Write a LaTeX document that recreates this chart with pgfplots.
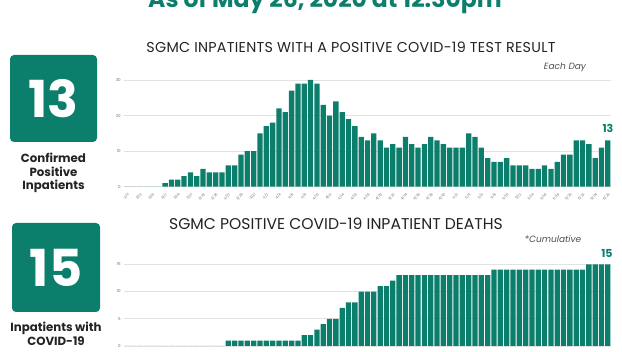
\documentclass[border=0pt]{standalone}
\usepackage{pgfplots}
\pgfplotsset{compat=1.18}
\usepackage{pgfplotstable}
\usepackage{fontspec}
\setmainfont{Poppins}
\definecolor{teal1}{RGB}{12,126,108}
\definecolor{gridgray}{RGB}{226,226,226}
\definecolor{ticktext}{RGB}{110,110,110}
\definecolor{darktext}{RGB}{35,35,35}

\pgfplotstableread{
x y
0 0
1 0
2 0
3 0
4 0
5 0
6 1
7 2
8 2
9 3
10 4
11 3
12 5
13 4
14 4
15 4
16 6
17 6
18 9
19 10
20 10
21 15
22 17
23 18
24 22
25 21
26 27
27 29
28 29
29 30
30 29
31 23
32 20
33 24
34 21
35 19
36 17
37 14
38 13
39 15
40 13
41 11
42 12
43 11
44 14
45 12
46 11
47 12
48 14
49 13
50 12
51 11
52 11
53 11
54 15
55 14
56 11
57 8
58 7
59 7
60 8
61 6
62 6
63 6
64 5
65 5
66 6
67 5
68 7
69 9
70 9
71 13
72 13
73 12
74 8
75 11
76 13
}\inpatients

\pgfplotstableread{
x y
0 0
1 0
2 0
3 0
4 0
5 0
6 0
7 0
8 0
9 0
10 0
11 0
12 0
13 0
14 0
15 0
16 1
17 1
18 1
19 1
20 1
21 1
22 1
23 1
24 1
25 1
26 1
27 1
28 2
29 2
30 3
31 4
32 5
33 5
34 7
35 8
36 8
37 10
38 10
39 10
40 11
41 11
42 12
43 13
44 13
45 13
46 13
47 13
48 13
49 13
50 13
51 13
52 13
53 13
54 13
55 13
56 13
57 13
58 14
59 14
60 14
61 14
62 14
63 14
64 14
65 14
66 14
67 14
68 14
69 14
70 14
71 14
72 14
73 15
74 15
75 15
76 15
}\deaths

\pgfplotsset{
  chartstyle/.style={
    scale only axis, width=487pt,
    xmin=-0.5, xmax=76.5, ymin=0,
    axis lines=left, axis line style={draw=none}, tick style={draw=none},
    ymajorgrids, grid style={gridgray, line width=0.8pt},
    xtick={0,2,...,76},
    xticklabels={3/11,3/13,3/15,3/17,3/19,3/21,3/23,3/25,3/27,3/29,3/31,4/2,4/4,4/6,4/8,4/10,4/12,4/14,4/16,4/18,4/20,4/22,4/24,4/26,4/28,4/30,5/2,5/4,5/6,5/8,5/10,5/12,5/14,5/16,5/18,5/20,5/22,5/24,5/26},
    xticklabel style={rotate=45, anchor=north east, font=\fontsize{3.5}{3.5}\selectfont, text=ticktext, inner sep=1pt},
    yticklabel style={font=\fontsize{4}{4}\selectfont, text=ticktext, inner sep=1pt},
    /pgf/number format/assume math mode=true,
    ybar, bar width=5.3pt, bar shift=0pt,
    clip=false,
  }
}

\begin{document}
\begin{tikzpicture}[x=1pt,y=1pt]
\path[use as bounding box] (0,0) rectangle (622,352);

% header
\node[anchor=base, text=teal1, font=\fontsize{23.5}{23.5}\selectfont\bfseries, inner sep=0pt] at (325,344) {As of May 26, 2020 at 12:30pm};

% left boxes
\fill[teal1, rounded corners=4pt] (10,210) rectangle (97,297);
\node[text=white, font=\fontsize{51}{51}\selectfont\bfseries] at (53.5,253.5) {13};
\node[text=darktext, font=\fontsize{11.8}{13.6}\selectfont\bfseries, align=center, anchor=north] at (53.5,202.5) {Confirmed\\Positive\\Inpatients};

\fill[teal1, rounded corners=4pt] (12,40) rectangle (100,129);
\node[text=white, font=\fontsize{51}{51}\selectfont\bfseries] at (56,84.5) {15};
\node[text=darktext, font=\fontsize{11.8}{14.5}\selectfont\bfseries, align=center, anchor=north] at (56,33.5) {Inpatients with\\COVID-19};

% titles
\node[text=darktext, font=\fontsize{14.3}{14.3}\selectfont\addfontfeatures{LetterSpace=2}] at (351,305) {SGMC INPATIENTS WITH A POSITIVE COVID-19 TEST RESULT};
\node[text=darktext, font=\fontsize{15.6}{15.6}\selectfont] at (336,128) {SGMC POSITIVE COVID-19 INPATIENT DEATHS};
\node[text=darktext!80, font=\fontsize{9}{9}\selectfont\itshape] at (565,285) {Each Day};
\node[text=darktext!80, font=\fontsize{9}{9}\selectfont\itshape] at (553,113) {*Cumulative};

% top chart
\begin{axis}[chartstyle, at={(124pt,165.3pt)}, anchor=south west, height=106.7pt, ymax=30, ytick={0,10,20,30}]
\addplot[fill=teal1, draw=none] table[x=x,y=y] {\inpatients};
\end{axis}
\node[text=teal1, font=\fontsize{11}{11}\selectfont\bfseries] at (608,224) {13};

% bottom chart
\begin{axis}[chartstyle, at={(124pt,6pt)}, anchor=south west, height=81.7pt, ymax=15, ytick={0,5,10,15}]
\addplot[fill=teal1, draw=none] table[x=x,y=y] {\deaths};
\end{axis}
\node[text=teal1, font=\fontsize{11}{11}\selectfont\bfseries] at (607,99) {15};
\end{tikzpicture}
\end{document}
